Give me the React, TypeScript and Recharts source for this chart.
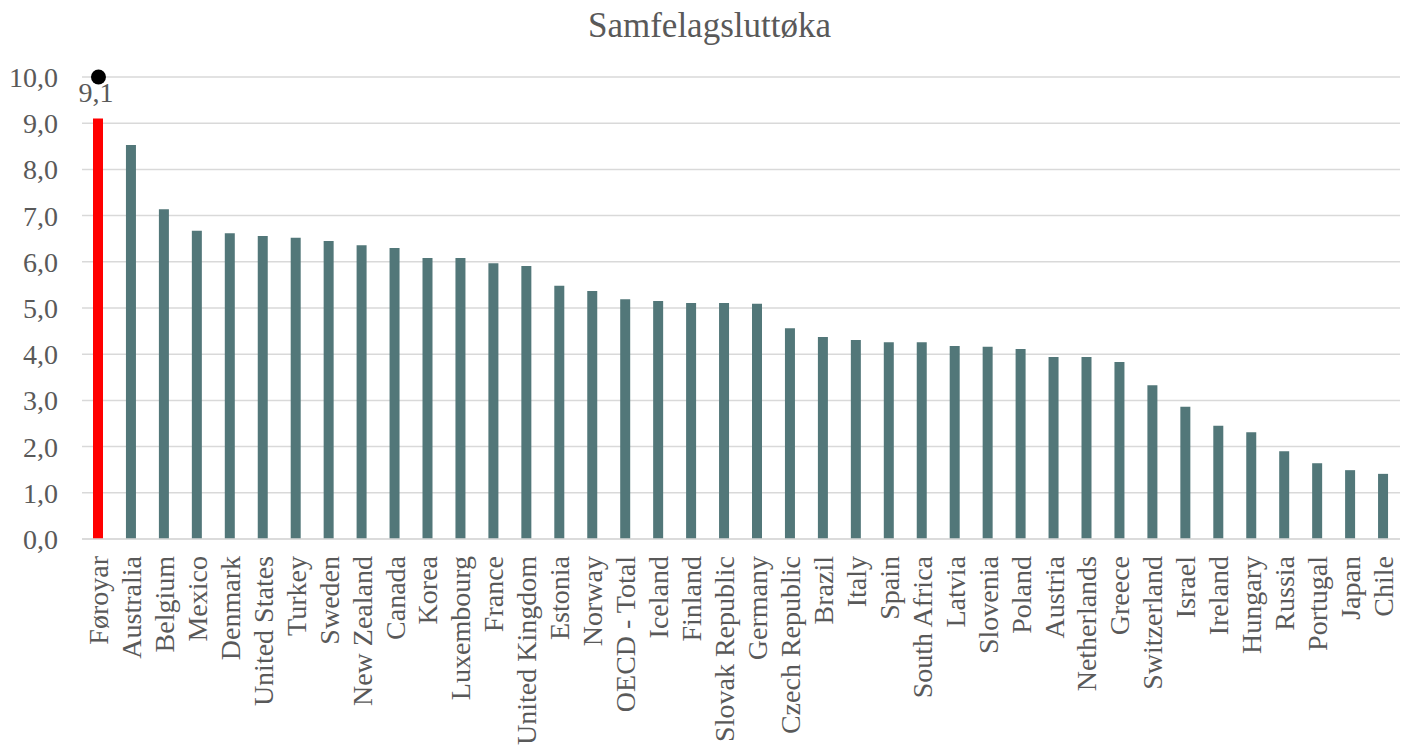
import React from "react";
import { ComposedChart, Bar, Line, Cell, XAxis, YAxis, CartesianGrid, LabelList } from "recharts";

const title = "Samfelagsluttøka";

const categories = [
  "Føroyar", "Australia", "Belgium", "Mexico", "Denmark", "United States", "Turkey", "Sweden",
  "New Zealand", "Canada", "Korea", "Luxembourg", "France", "United Kingdom", "Estonia", "Norway",
  "OECD - Total", "Iceland", "Finland", "Slovak Republic", "Germany", "Czech Republic", "Brazil",
  "Italy", "Spain", "South Africa", "Latvia", "Slovenia", "Poland", "Austria", "Netherlands",
  "Greece", "Switzerland", "Israel", "Ireland", "Hungary", "Russia", "Portugal", "Japan", "Chile",
];

const values = [
  9.1, 8.53, 7.14, 6.67, 6.62, 6.56, 6.52, 6.45,
  6.36, 6.3, 6.08, 6.08, 5.97, 5.91, 5.48, 5.37,
  5.19, 5.15, 5.11, 5.11, 5.09, 4.56, 4.37,
  4.31, 4.26, 4.26, 4.18, 4.16, 4.11, 3.94, 3.94,
  3.83, 3.33, 2.86, 2.45, 2.31, 1.9, 1.64, 1.49, 1.41,
];

const highlightCategory = "Føroyar";
const markerCategory = "Føroyar";
const markerValue = 10;

const yTicks = [0, 1, 2, 3, 4, 5, 6, 7, 8, 9, 10];

const data = categories.map((c, i) => ({
  category: c,
  value: values[i],
  marker: c === markerCategory ? markerValue : null,
}));

const TEXT = "#595959";
const FONT = "'Liberation Serif', 'Times New Roman', serif";
const fmt = (v: number) => v.toFixed(1).replace(".", ",");

const XTick = (props: any) => {
  const { x, y, payload } = props;
  const yy = y + 9;
  return (
    <text
      x={x}
      y={yy}
      transform={`rotate(-90, ${x}, ${yy})`}
      textAnchor="end"
      dy="0.34em"
      fill={TEXT}
      fontSize={28}
      fontFamily={FONT}
    >
      {payload.value}
    </text>
  );
};

const HighlightLabel = (props: any) => {
  const { x, y, width, index } = props;
  if (categories[index] !== highlightCategory) return null;
  return (
    <text x={x + width / 2 - 2} y={y - 17} textAnchor="middle" fill={TEXT} fontSize={28} fontFamily={FONT}>
      {fmt(values[index])}
    </text>
  );
};

export default function App() {
  return (
    <div style={{ position: "absolute", left: 0, top: 0, width: 1409, height: 754, background: "#fff" }}>
      <svg width={1409} height={60} style={{ position: "absolute", left: 0, top: 0 }}>
        <text x={709.5} y={37} textAnchor="middle" fill={TEXT} fontSize={35} fontFamily={FONT}>
          {title}
        </text>
      </svg>
      <ComposedChart
        width={1409}
        height={754}
        data={data}
        margin={{ top: 77, right: 9, left: 0, bottom: 0 }}
        style={{ position: "absolute", left: 0, top: 0 }}
      >
        <CartesianGrid vertical={false} stroke="#d9d9d9" strokeWidth={1.5} />
        <XAxis
          dataKey="category"
          interval={0}
          height={215}
          axisLine={{ stroke: "#d9d9d9", strokeWidth: 1.5 }}
          tickLine={false}
          tick={<XTick />}
        />
        <YAxis
          domain={[0, 10]}
          ticks={yTicks}
          width={82}
          axisLine={false}
          tickLine={false}
          tickMargin={18}
          tickFormatter={fmt}
          tick={{ fill: TEXT, fontSize: 28, fontFamily: FONT }}
        />
        <Bar dataKey="value" barSize={10} isAnimationActive={false}>
          {data.map((d) => (
            <Cell key={d.category} fill={d.category === highlightCategory ? "#ff0000" : "#527779"} />
          ))}
          <LabelList dataKey="value" content={<HighlightLabel />} />
        </Bar>
        <Line
          dataKey="marker"
          stroke="none"
          dot={{ r: 7.5, fill: "#000", stroke: "none" }}
          activeDot={false}
          isAnimationActive={false}
        />
      </ComposedChart>
    </div>
  );
}
